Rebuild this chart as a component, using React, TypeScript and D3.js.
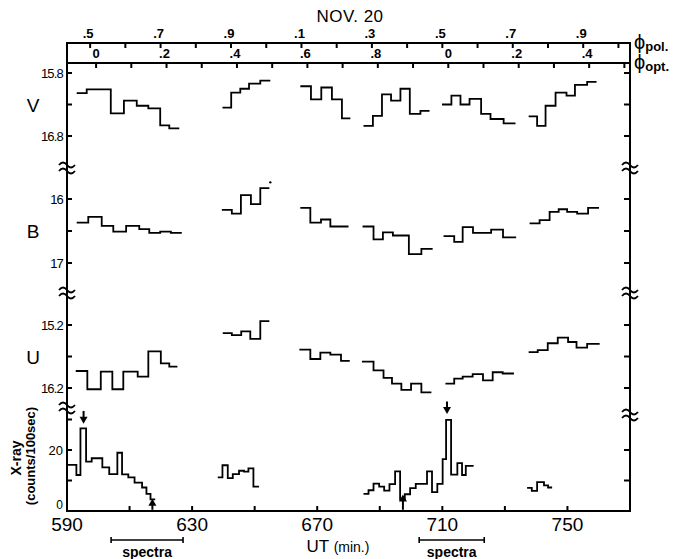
import React from 'react';
import * as d3 from 'd3';

// ---- time axis (UT, minutes) ----
const utTicks = [590, 610, 630, 650, 670, 690, 710, 730, 750, 770];
const utLabels = [590, 630, 670, 710, 750];

// orbital phase, period in minutes and reference epochs (UT)
const period = 112.6;
const optZeroUT = 599.3;
const polHalfUT = 597.4;

// V band: bin edges (UT) and magnitudes, one list per run
const vTimes = [
  [593.1, 596.3, 604.0, 608.2, 612.3, 616.0, 619.8, 622.7, 625.9],
  [639.7, 642.5, 645.4, 648.2, 651.8, 655.0],
  [664.6, 668.0, 671.3, 674.7, 677.9, 680.6],
  [684.8, 687.8, 690.7, 693.6, 696.6, 699.6, 703.0, 705.9],
  [709.9, 712.9, 715.8, 718.7, 722.4, 725.4, 729.6, 733.4],
  [737.6, 740.3, 743.0, 746.2, 749.7, 752.4, 756.3, 759.3],
];
const vMags = [
  [16.12, 16.06, 16.44, 16.24, 16.32, 16.36, 16.63, 16.68],
  [16.35, 16.11, 16.05, 15.97, 15.92],
  [16.01, 16.22, 16.03, 16.22, 16.52],
  [16.64, 16.48, 16.14, 16.24, 16.05, 16.45, 16.40],
  [16.30, 16.16, 16.30, 16.21, 16.45, 16.53, 16.60],
  [16.49, 16.64, 16.32, 16.11, 16.16, 15.99, 15.94],
];

// B band
const bTimes = [
  [593.1, 596.8, 601.1, 604.8, 608.9, 613.1, 616.3, 619.8, 623.2, 626.7],
  [639.5, 642.7, 645.6, 648.8, 651.8, 654.7],
  [664.6, 667.8, 671.2, 674.2, 680.0],
  [684.5, 688.0, 691.0, 694.2, 699.3, 703.3, 706.9],
  [710.4, 713.8, 716.5, 719.8, 725.6, 729.4, 733.6],
  [737.9, 741.1, 744.3, 747.2, 749.9, 753.1, 756.6, 760.1],
];
const bMags = [
  [16.37, 16.28, 16.42, 16.51, 16.42, 16.47, 16.53, 16.51, 16.53],
  [16.17, 16.23, 15.94, 16.08, 15.83],
  [16.14, 16.37, 16.32, 16.43],
  [16.43, 16.63, 16.52, 16.57, 16.86, 16.78],
  [16.58, 16.67, 16.44, 16.53, 16.48, 16.60],
  [16.38, 16.33, 16.20, 16.16, 16.20, 16.23, 16.14],
];
const bDot = [655.0, 15.74];

// U band
const uTimes = [
  [592.8, 596.5, 600.8, 604.5, 608.0, 612.6, 616.0, 620.0, 622.7, 625.3],
  [639.8, 642.7, 645.7, 648.6, 651.8, 654.7],
  [664.3, 667.8, 671.0, 674.2, 677.6, 680.4],
  [684.3, 688.0, 691.2, 693.9, 696.9, 700.0, 703.3, 706.5],
  [711.0, 713.8, 716.5, 719.7, 723.0, 726.1, 729.3, 732.9],
  [737.6, 740.5, 743.7, 746.9, 750.2, 752.9, 756.3, 760.3],
];
const uMags = [
  [15.93, 16.22, 15.94, 16.22, 15.94, 16.02, 15.62, 15.81, 15.86],
  [15.33, 15.36, 15.30, 15.42, 15.14],
  [15.59, 15.74, 15.64, 15.67, 15.77],
  [15.78, 15.92, 16.04, 16.13, 16.23, 16.13, 16.27],
  [16.13, 16.05, 16.02, 15.98, 16.08, 15.95, 15.97],
  [15.63, 15.60, 15.49, 15.40, 15.47, 15.56, 15.50],
];

// X-ray counts per 100 s
const xTimes = [
  [590.0, 593.0, 594.3, 596.1, 597.9, 601.3, 603.5, 606.1, 607.6, 609.6, 611.6, 614.0, 615.4, 616.7, 618.2],
  [638.2, 639.7, 641.4, 643.0, 645.0, 646.6, 648.0, 649.6, 651.4],
  [684.8, 686.4, 688.0, 689.8, 691.4, 693.1, 694.9, 696.5, 698.0, 699.7, 701.5, 705.1, 706.7, 708.4,
    710.1, 711.2, 712.8, 714.8, 716.3, 717.5, 720.0],
  [737.1, 738.6, 740.3, 742.5, 743.8, 745.1],
];
const xCounts = [
  [15.1, 11.8, 27.1, 16.2, 17.3, 14.3, 12.1, 19.1, 12.0, 11.0, 9.3, 7.7, 5.6, 3.8],
  [11.0, 15.0, 10.8, 12.1, 13.2, 12.9, 14.0, 8.0],
  [5.6, 6.8, 9.0, 8.0, 6.7, 8.8, 13.0, 3.8, 5.5, 7.5, 8.9, 13.0, 6.2, 8.9, 17.0, 29.9, 11.9, 15.7, 11.8, 14.8],
  [7.6, 6.6, 9.5, 8.4, 7.7],
];

// arrows on the X-ray curve: [UT, tail count, tip count]
const xArrows = [
  [595.3, 32.8, 28.6],
  [617.3, 0.4, 4.0],
  [697.4, 0.4, 5.4],
  [711.5, 35.9, 31.8],
];

// spectra exposures (UT)
const spectraStart = [604.1, 702.6];
const spectraEnd = [627.1, 723.4];

const FONT = '"Liberation Sans", Arial, sans-serif';

const x = d3.scaleLinear().domain([590, 770]).range([67, 630]);
const optPhase = d3.scaleLinear()
  .domain([(590 - optZeroUT) / period, (770 - optZeroUT) / period])
  .range([67, 630]);
const polPhase = d3.scaleLinear()
  .domain([0.5 + (590 - polHalfUT) / period, 0.5 + (770 - polHalfUT) / period])
  .range([67, 630]);

const yV = d3.scaleLinear().domain([15.8, 16.8]).range([73, 136]);
const yB = d3.scaleLinear().domain([16, 17]).range([199, 263]);
const yU = d3.scaleLinear().domain([15.2, 16.2]).range([325, 388]);
const yX = d3.scaleLinear().domain([0, 20]).range([511, 450]);

const LEFT = x.range()[0];
const RIGHT = x.range()[1];
const TOP_POL = 43;
const TOP_OPT = 63;
const BOTTOM = yX(0);

function stepPath(times: number[], vals: number[], y: d3.ScaleLinear<number, number>) {
  const pts: [number, number][] = times.map((t, i) => [t, vals[Math.min(i, vals.length - 1)]]);
  return d3.line<[number, number]>()
    .x(d => x(d[0]))
    .y(d => y(d[1]))
    .curve(d3.curveStepAfter)(pts) || '';
}

function phaseLabel(p: number) {
  const f = Math.round(p * 10) % 10;
  return f === 0 ? '0' : '.' + f;
}

function Squiggle({ cx, cy }: { cx: number; cy: number }) {
  const d = (oy: number) =>
    `M${cx - 8},${cy + oy} q4,-5 8,0 t8,0`;
  return (
    <g fill="none" stroke="#000" strokeWidth={1.8}>
      <path d={d(-3)} />
      <path d={d(3)} />
    </g>
  );
}

function Arrow({ t, from, to }: { t: number; from: number; to: number }) {
  const ax = x(t);
  const y0 = yX(from);
  const y1 = yX(to);
  const dir = y1 > y0 ? 1 : -1;
  const head = `M${ax - 4},${y1 - dir * 7} L${ax + 4},${y1 - dir * 7} L${ax},${y1} Z`;
  return (
    <g>
      <line x1={ax} x2={ax} y1={y0} y2={y1 - dir * 4} stroke="#000" strokeWidth={2} />
      <path d={head} fill="#000" />
    </g>
  );
}

const panels = [
  { name: 'V', y: yV, ticks: [15.8, 16.3, 16.8], labels: [15.8, 16.8], times: vTimes, vals: vMags, breakY: 168 },
  { name: 'B', y: yB, ticks: [16, 16.5, 17], labels: [16, 17], times: bTimes, vals: bMags, breakY: 293 },
  { name: 'U', y: yU, ticks: [15.2, 15.7, 16.2], labels: [15.2, 16.2], times: uTimes, vals: uMags, breakY: 408 },
];

export default function App() {
  const optTicks = d3.range(0, 16).map(i => i / 10).filter(p => p >= optPhase.domain()[0] && p <= optPhase.domain()[1]);
  const polTicks = d3.range(5, 21).map(i => i / 10).filter(p => p >= polPhase.domain()[0] && p <= polPhase.domain()[1]);

  return (
    <svg width={676} height={559} style={{ position: 'absolute', left: 0, top: 0, background: '#fff' }}
      fontFamily={FONT}>
      {/* title */}
      <text x={350} y={22} fontSize={17} textAnchor="middle" letterSpacing={0.5}>NOV. 20</text>

      {/* frame */}
      <g stroke="#000" strokeWidth={2} fill="none">
        <line x1={LEFT} x2={RIGHT} y1={TOP_POL} y2={TOP_POL} />
        <line x1={LEFT} x2={RIGHT} y1={TOP_OPT} y2={TOP_OPT} />
        <line x1={LEFT} x2={RIGHT} y1={BOTTOM} y2={BOTTOM} />
        <line x1={LEFT} x2={LEFT} y1={TOP_POL - 1} y2={BOTTOM + 1} />
        <line x1={RIGHT} x2={RIGHT} y1={TOP_POL - 1} y2={BOTTOM + 1} />
      </g>

      {/* polarimetric phase axis */}
      {polTicks.map(p => {
        const px = polPhase(p);
        const lab = Math.round(p * 10) % 2 === 1;
        return (
          <g key={'pp' + p}>
            <line x1={px} x2={px} y1={TOP_POL} y2={TOP_POL + 5} stroke="#000" strokeWidth={2} />
            {lab && <text x={px - 2} y={TOP_POL - 5} fontSize={13} textAnchor="middle" fontWeight="bold">{phaseLabel(p)}</text>}
          </g>
        );
      })}
      {/* optical phase axis */}
      {optTicks.map(p => {
        const px = optPhase(p);
        const lab = Math.round(p * 10) % 2 === 0;
        return (
          <g key={'op' + p}>
            <line x1={px} x2={px} y1={TOP_OPT} y2={TOP_OPT + 5} stroke="#000" strokeWidth={2} />
            {lab && <text x={px - (phaseLabel(p) === '0' ? 0 : 2)} y={TOP_OPT - 5} fontSize={13} textAnchor="middle" fontWeight="bold">{phaseLabel(p)}</text>}
          </g>
        );
      })}
      <text x={634} y={49} fontSize={20}>ϕ<tspan fontSize={13} dy={2} fontWeight="bold">pol.</tspan></text>
      <text x={634} y={69} fontSize={20}>ϕ<tspan fontSize={13} dy={2} fontWeight="bold">opt.</tspan></text>

      {/* UT axis */}
      {utTicks.map(t => (
        <line key={'ut' + t} x1={x(t)} x2={x(t)} y1={BOTTOM} y2={BOTTOM - 5} stroke="#000" strokeWidth={2} />
      ))}
      {utLabels.map(t => (
        <text key={'utl' + t} x={x(t)} y={531} fontSize={19} textAnchor="middle" fontWeight="300">{t}</text>
      ))}
      <text x={338} y={552} fontSize={17} textAnchor="middle">UT <tspan fontSize={14}>(min.)</tspan></text>

      {/* magnitude panels */}
      {panels.map(pn => (
        <g key={pn.name}>
          {pn.ticks.map(v => (
            <g key={v} stroke="#000" strokeWidth={2}>
              <line x1={LEFT} x2={LEFT + 5} y1={pn.y(v)} y2={pn.y(v)} />
              <line x1={RIGHT} x2={RIGHT - 6} y1={pn.y(v)} y2={pn.y(v)} />
            </g>
          ))}
          {pn.labels.map(v => (
            <text key={'l' + v} x={LEFT - 4} y={pn.y(v) + 5} fontSize={13} textAnchor="end" letterSpacing={-0.8}>{v}</text>
          ))}
          <text x={33} y={d3.mean(pn.y.range())! + 7} fontSize={19} textAnchor="middle">{pn.name}</text>
          {pn.times.map((ts, i) => (
            <path key={i} d={stepPath(ts, pn.vals[i], pn.y)} fill="none" stroke="#000" strokeWidth={1.8} />
          ))}
          <Squiggle cx={LEFT} cy={pn.breakY} />
          <Squiggle cx={RIGHT} cy={pn.name === 'U' ? pn.breakY + 7 : pn.breakY} />
        </g>
      ))}
      <circle cx={x(bDot[0])} cy={yB(bDot[1])} r={1.2} fill="#000" />

      {/* X-ray panel */}
      {[10, 20, 30].map(v => (
        <line key={'xl' + v} x1={LEFT} x2={LEFT + 5} y1={yX(v)} y2={yX(v)} stroke="#000" strokeWidth={2} />
      ))}
      {[10, 20].map(v => (
        <line key={'xr' + v} x1={RIGHT} x2={RIGHT - 6} y1={yX(v)} y2={yX(v)} stroke="#000" strokeWidth={2} />
      ))}
      {[0, 20].map(v => (
        <text key={'xt' + v} x={LEFT - 4} y={yX(v) + (v === 0 ? -2 : 5)} fontSize={v === 0 ? 12 : 13} textAnchor="end">{v}</text>
      ))}
      <g transform="translate(21,458) rotate(-90)">
        <text x={0} y={0} fontSize={14} fontWeight="bold" textAnchor="middle">X-ray</text>
      </g>
      <g transform="translate(35,456) rotate(-90)">
        <text x={0} y={0} fontSize={13} fontWeight="bold" textAnchor="middle">(counts/100sec)</text>
      </g>
      {xTimes.map((ts, i) => (
        <path key={'x' + i} d={stepPath(ts, xCounts[i], yX)} fill="none" stroke="#000" strokeWidth={1.8} />
      ))}
      {xArrows.map((a, i) => (
        <Arrow key={'a' + i} t={a[0]} from={a[1]} to={a[2]} />
      ))}

      {/* spectra */}
      {spectraStart.map((s, i) => {
        const e = spectraEnd[i];
        return (
          <g key={'sp' + i}>
            <g stroke="#000" strokeWidth={1.6}>
              <line x1={x(s)} x2={x(e)} y1={540} y2={540} />
              <line x1={x(s)} x2={x(s)} y1={537} y2={543} />
              <line x1={x(e)} x2={x(e)} y1={537} y2={543} />
            </g>
            <text x={(x(s) + x(e)) / 2} y={557} fontSize={14} fontWeight="bold" textAnchor="middle">spectra</text>
          </g>
        );
      })}
    </svg>
  );
}
